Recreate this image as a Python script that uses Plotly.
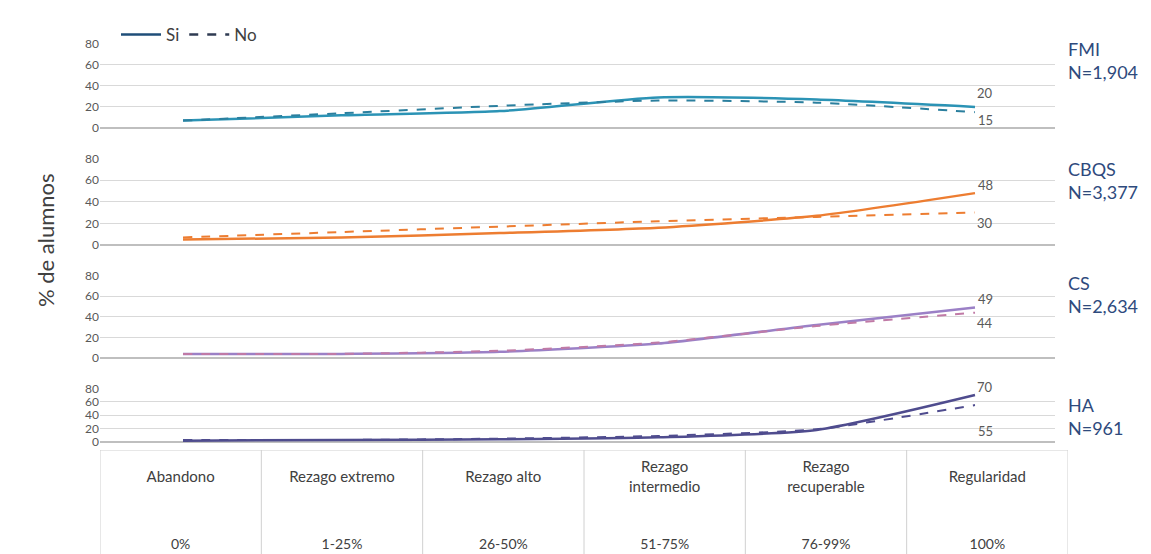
import plotly.graph_objects as go

# ---- data ----
categories = ["Abandono", "Rezago extremo", "Rezago alto", "Rezago<br>intermedio", "Rezago<br>recuperable", "Regularidad"]
ranges = ["0%", "1-25%", "26-50%", "51-75%", "76-99%", "100%"]
programs = ["FMI", "CBQS", "CS", "HA"]
n_labels = ["N=1,904", "N=3,377", "N=2,634", "N=961"]
fmi_si = [7, 12, 16, 29, 27, 20]
fmi_no = [7, 14, 21, 26, 24, 15]
cbqs_si = [5, 7, 11, 16, 27, 48]
cbqs_no = [7, 12, 17, 22, 26, 30]
cs_si = [4, 4, 6, 14, 32, 49]
cs_no = [4, 4, 7, 15, 31, 44]
ha_si = [2, 3, 4, 7, 18, 70]
ha_no = [3, 3, 5, 9, 19, 55]
y_ticks = [0, 20, 40, 60, 80]

si_series = [fmi_si, cbqs_si, cs_si, ha_si]
no_series = [fmi_no, cbqs_no, cs_no, ha_no]

# ---- layout helpers (page has an 8px body margin) ----
OFF = 8
W, H = 1151 - OFF, 554 - OFF


def px_x(px):
    return (px - OFF) / W


def px_y(py):
    return 1 - (py - OFF) / H


colors_si = ["#2b93b5", "#ed7d31", "#9b80c6", "#4f4c8e"]
colors_no = ["#2b7f9e", "#ed7d31", "#c07aa6", "#4f4c8e"]
# panel pixel extents (top=80, bottom=0) in screen pixels
panel_px = [(43, 128), (158, 245), (275, 358), (388, 442)]
name_px = [60, 180, 294, 416]
si_shift = [14, 8, 8, 8]
no_shift = [-8, -10, -10, -26]

x_dom = [px_x(100), px_x(1055)]
x_rng = [(100 - 183) / 158.4, (1055 - 183) / 158.4]
xs = list(range(len(categories)))

fig = go.Figure()
font_fam = "Lato, 'Open Sans', sans-serif"

for k in range(4):
    ax = "" if k == 0 else str(k + 1)
    top, bot = panel_px[k]
    fig.add_trace(go.Scatter(x=xs, y=si_series[k], mode="lines", line=dict(color=colors_si[k], width=2.5, shape="spline", smoothing=0.6),
                             xaxis="x" + ax, yaxis="y" + ax, showlegend=False, name=programs[k] + " Si"))
    fig.add_trace(go.Scatter(x=xs, y=no_series[k], mode="lines", line=dict(color=colors_no[k], width=2, dash="dash", shape="spline", smoothing=0.6),
                             xaxis="x" + ax, yaxis="y" + ax, showlegend=False, name=programs[k] + " No"))
    fig.layout["xaxis" + ax] = dict(domain=x_dom, range=x_rng, visible=False, anchor="y" + ax, automargin=False)
    fig.layout["yaxis" + ax] = dict(domain=[px_y(bot), px_y(top)], range=[0, 80.5], anchor="x" + ax,
                                    tickvals=y_ticks, showgrid=True, gridcolor="#d9d9d9", gridwidth=1,
                                    zeroline=True, zerolinecolor="#bfbfbf", zerolinewidth=1.5, automargin=False,
                                    tickfont=dict(size=12, color="#595959", family=font_fam), ticks="", showline=False)
    fig.add_annotation(x=xs[-1], y=si_series[k][-1], xref="x" + ax, yref="y" + ax, text=str(si_series[k][-1]),
                       showarrow=False, xshift=10, yshift=si_shift[k], xanchor="center", yanchor="middle",
                       font=dict(size=13, color="#595959", family=font_fam))
    fig.add_annotation(x=xs[-1], y=no_series[k][-1], xref="x" + ax, yref="y" + ax, text=str(no_series[k][-1]),
                       showarrow=False, xshift=10, yshift=no_shift[k], xanchor="center", yanchor="middle",
                       font=dict(size=13, color="#595959", family=font_fam))
    fig.add_annotation(x=px_x(1066), y=px_y(name_px[k]), xref="paper", yref="paper", xanchor="left", yanchor="middle",
                       align="left", text=programs[k] + "<br>" + n_labels[k], showarrow=False,
                       font=dict(size=18, color="#2e4a7d", family=font_fam))

# legend entries
fig.add_trace(go.Scatter(x=[None], y=[None], mode="lines", name="Si", line=dict(color="#1f4e79", width=2.5)))
fig.add_trace(go.Scatter(x=[None], y=[None], mode="lines", name="No", line=dict(color="#2f3b52", width=2.5, dash="dash")))

# table axis (screen 450 -> 554)
tab_top, tab_bot = 450, 554
tab_h = tab_bot - tab_top
fig.layout["xaxis5"] = dict(domain=[px_x(100), px_x(1068)], range=[-0.5, 5.5], visible=False, anchor="y5", automargin=False)
fig.layout["yaxis5"] = dict(domain=[0, px_y(tab_top)], range=[0, tab_h], visible=False, anchor="x5", automargin=False)
fig.add_trace(go.Scatter(x=xs, y=[tab_bot - 478] * 6, mode="text", text=categories, xaxis="x5", yaxis="y5", showlegend=False,
                         textfont=dict(size=15, color="#404040", family=font_fam), hoverinfo="skip"))
fig.add_trace(go.Scatter(x=xs, y=[tab_bot - 545] * 6, mode="text", text=ranges, xaxis="x5", yaxis="y5", showlegend=False,
                         textfont=dict(size=14, color="#404040", family=font_fam), hoverinfo="skip", cliponaxis=False))
for i in range(len(categories) + 1):
    fig.add_shape(type="line", xref="x5", yref="y5", x0=i - 0.5, x1=i - 0.5, y0=0, y1=tab_h,
                  line=dict(color="#d0d0d0", width=1))
fig.add_shape(type="line", xref="x5", yref="y5", x0=-0.5, x1=5.5, y0=tab_h, y1=tab_h,
              line=dict(color="#d0d0d0", width=1))

fig.add_annotation(x=px_x(45), y=px_y(240), xref="paper", yref="paper", text="% de alumnos", textangle=-90,
                   xanchor="center", yanchor="middle",
                   showarrow=False, font=dict(size=22, color="#404040", family=font_fam))

fig.update_layout(template="none", width=W, height=H, margin=dict(l=0, r=0, t=0, b=0, pad=0, autoexpand=False),
                  plot_bgcolor="white", paper_bgcolor="white",
                  showlegend=True,
                  legend=dict(orientation="h", x=px_x(116), y=px_y(17), xanchor="left", yanchor="top",
                              font=dict(size=17, color="#404040", family=font_fam), bgcolor="rgba(0,0,0,0)",
                              itemwidth=40, tracegroupgap=0))

fig.write_html("out.html")
